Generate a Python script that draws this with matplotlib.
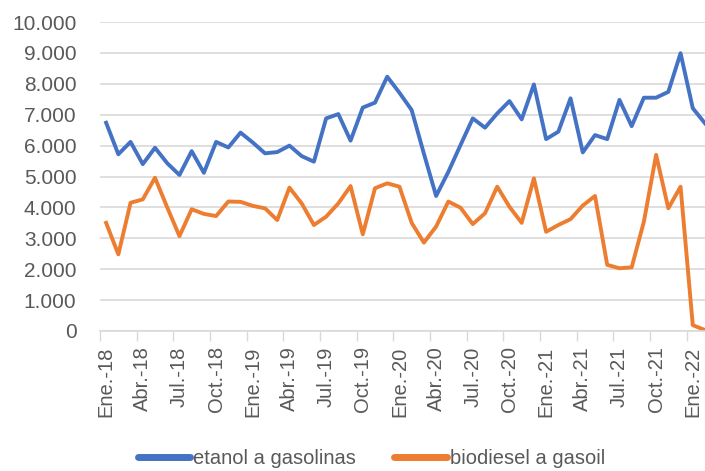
import matplotlib.pyplot as plt
from matplotlib.ticker import FuncFormatter

months = ["Ene.", "Feb.", "Mar.", "Abr.", "May.", "Jun.",
          "Jul.", "Ago.", "Sep.", "Oct.", "Nov.", "Dic."]
labels = [m + "-" + str(y) for y in range(18, 23) for m in months][:50]

etanol = [6740, 5720, 6120, 5400, 5930, 5430, 5050, 5820, 5120, 6120,
          5940, 6420, 6100, 5750, 5790, 6000, 5660, 5480, 6880, 7020,
          6160, 7230, 7390, 8230, 7710, 7150, 5740, 4370, 5150, 6020,
          6880, 6580, 7040, 7440, 6850, 7980, 6210, 6450, 7530, 5780,
          6340, 6210, 7480, 6630, 7550, 7550, 7740, 8990, 7210, 6720]

biodiesel = [3500, 2480, 4150, 4260, 4960, 4000, 3070, 3940, 3790, 3720,
             4190, 4180, 4050, 3970, 3590, 4640, 4130, 3430, 3700, 4130,
             4690, 3130, 4620, 4780, 4670, 3500, 2860, 3380, 4190, 3990,
             3460, 3810, 4670, 4020, 3500, 4940, 3210, 3430, 3620, 4060,
             4370, 2140, 2030, 2060, 3540, 5700, 3970, 4670, 190, 30]

plt.rcParams['font.family'] = ['Liberation Sans', 'DejaVu Sans']
grey = "#595959"

fig = plt.figure(figsize=(7.05, 4.71), dpi=100)
ax = fig.add_axes([100 / 705, 1 - 331 / 471, 1 - 100 / 705, 309 / 471])

x = list(range(len(etanol)))
ax.plot(x, etanol, color="#4472C4", lw=2.8, label="etanol a gasolinas",
        solid_joinstyle="round")
ax.plot(x, biodiesel, color="#ED7D31", lw=2.8, label="biodiesel a gasoil",
        solid_joinstyle="round")

ax.set_ylim(0, 10000)
ax.set_yticks(range(0, 10001, 1000))
ax.yaxis.set_major_formatter(FuncFormatter(lambda v, p: f"{int(v):,}".replace(",", ".")))
ax.set_xlim(-0.5, 49.0)

# labels every 3 months, tick marks between categories
ax.set_xticks([i for i in x if i % 3 == 0])
ax.set_xticklabels([labels[i] for i in x if i % 3 == 0], rotation=90)
ax.set_xticks([i - 0.5 for i in x if i % 3 == 0], minor=True)
ax.tick_params(axis="x", which="major", length=0, pad=11, labelsize=14.5, labelcolor=grey)
ax.tick_params(axis="x", which="minor", length=7, color="#d9d9d9", width=1)
ax.tick_params(axis="y", length=0, pad=17, labelsize=15, labelcolor=grey)

ax.grid(axis="y", color="#d9d9d9", lw=1.2)
ax.set_axisbelow(True)
for s in ["top", "right", "left"]:
    ax.spines[s].set_visible(False)
ax.spines["bottom"].set_color("#d9d9d9")
ax.spines["bottom"].set_linewidth(1.2)

leg = fig.legend(loc="center", bbox_to_anchor=(0.527, 0.026), ncol=2, frameon=False,
                 fontsize=14.5, handlelength=2.6, handletextpad=0.15, columnspacing=1.9,
                 labelcolor=grey)
for h in leg.get_lines():
    h.set_linewidth(5)
    h.set_solid_capstyle("round")

fig.savefig("out.png", dpi=100)
